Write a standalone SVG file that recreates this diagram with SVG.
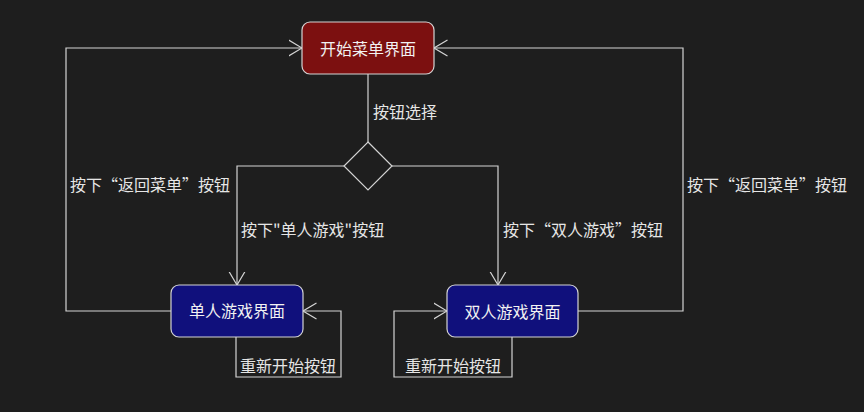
<svg xmlns="http://www.w3.org/2000/svg" width="864" height="412" viewBox="0 0 864 412">
<style>
.bg{fill:#1e1e1e}
.node{stroke:#d4d4d4;stroke-width:1.2}
.red{fill:#7c1010}
.blue{fill:#10107c}
.edge{fill:none;stroke:#d4d4d4;stroke-width:1.2}
.nt{font-family:"Noto Sans CJK SC","Noto Sans",sans-serif;font-size:16px;fill:#f2f2f2;text-anchor:middle}
.lt{font-family:"Noto Sans CJK SC","Noto Sans",sans-serif;font-size:16px;fill:#e6e6e6}
</style>
<defs>
<marker id="arr" viewBox="0 0 14 18" refX="13.5" refY="9" markerWidth="14" markerHeight="18" markerUnits="userSpaceOnUse" orient="auto">
<path d="M0,1 L13.5,9 L0,17" fill="none" stroke="#d4d4d4" stroke-width="1.2"/>
</marker>
</defs>
<rect class="bg" x="0" y="0" width="864" height="412"/>
<g id="connectors">
<path class="edge" d="M368,74 L368,142"/>
<path class="edge" d="M344,166 L237,166 L237,285" marker-end="url(#arr)"/>
<path class="edge" d="M392,166 L498,166 L498,285" marker-end="url(#arr)"/>
<path class="edge" d="M171,311 L66,311 L66,48 L302,48" marker-end="url(#arr)"/>
<path class="edge" d="M578,311 L683,311 L683,48 L434,48" marker-end="url(#arr)"/>
<path class="edge" d="M236,337 L236,377 L341,377 L341,311 L303,311" marker-end="url(#arr)"/>
<path class="edge" d="M512,337 L512,377 L394,377 L394,311 L447,311" marker-end="url(#arr)"/>
<text class="lt" x="373" y="118">按钮选择</text>
<text class="lt" x="70" y="191">按下“返回菜单”按钮</text>
<text class="lt" x="687" y="191">按下“返回菜单”按钮</text>
<text class="lt" x="241" y="236">按下"单人游戏"按钮</text>
<text class="lt" x="503" y="236">按下“双人游戏”按钮</text>
<text class="lt" x="240" y="372">重新开始按钮</text>
<text class="lt" x="405" y="372">重新开始按钮</text>
</g>
<g id="start">
<rect class="node red" x="302" y="22" width="132" height="52" rx="8"/>
<text class="nt" x="368" y="55">开始菜单界面</text>
</g>
<g id="choice">
<path class="node" d="M368,142 L392,166 L368,190 L344,166 Z" fill="#1e1e1e"/>
</g>
<g id="single">
<rect class="node blue" x="171" y="285" width="132" height="52" rx="8"/>
<text class="nt" x="237" y="317">单人游戏界面</text>
</g>
<g id="double">
<rect class="node blue" x="447" y="285" width="131" height="52" rx="8"/>
<text class="nt" x="512.5" y="318">双人游戏界面</text>
</g>
</svg>
